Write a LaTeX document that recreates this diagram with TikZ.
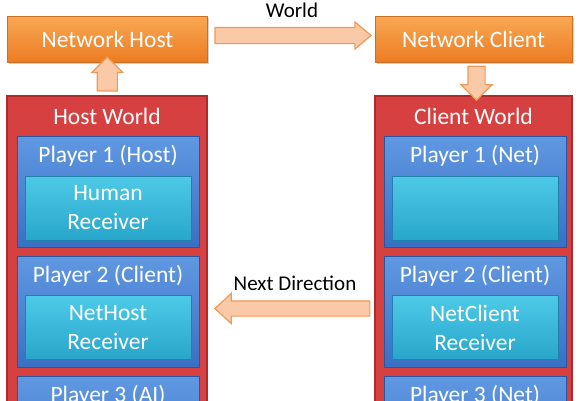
\documentclass[tikz,border=0pt]{standalone}
\usepackage{fontspec}
\setmainfont{Carlito}
\usetikzlibrary{shapes,arrows,positioning,calc,shadows}

\definecolor{orangetop}{RGB}{250,168,85}
\definecolor{orangebot}{RGB}{236,124,34}
\definecolor{orangeline}{RGB}{205,110,35}
\definecolor{redfill}{RGB}{214,64,64}
\definecolor{redline}{RGB}{175,42,42}
\definecolor{bluetop}{RGB}{96,152,226}
\definecolor{bluebot}{RGB}{58,112,196}
\definecolor{blueline}{RGB}{40,86,160}
\definecolor{cyantop}{RGB}{78,202,232}
\definecolor{cyanbot}{RGB}{40,166,202}
\definecolor{cyanline}{RGB}{30,130,172}
\definecolor{arrowfill}{RGB}{250,202,168}
\definecolor{arrowline}{RGB}{240,152,85}

\begin{document}
\begin{tikzpicture}[x=1pt, y=-1pt]
    % Styles
    \tikzstyle{netbox} = [draw=orangeline, top color=orangetop, bottom color=orangebot, minimum height=46pt, inner sep=0pt, outer sep=0pt, text=white, font=\fontsize{23.5}{27}\selectfont, drop shadow={opacity=0.35, shadow xshift=1.5pt, shadow yshift=-1.5pt}]
    \tikzstyle{world} = [draw=redline, line width=1.2pt, fill=redfill, minimum width=200pt, minimum height=320pt, inner sep=0pt, outer sep=0pt]
    \tikzstyle{player} = [draw=blueline, line width=1pt, top color=bluetop, bottom color=bluebot, minimum width=182pt, minimum height=111pt, inner sep=0pt, outer sep=0pt]
    \tikzstyle{recv} = [draw=cyanline, line width=0.8pt, top color=cyantop, bottom color=cyanbot, minimum width=166pt, minimum height=64pt, inner sep=0pt, outer sep=0pt, text=white, align=center, font=\fontsize{23.5}{29}\selectfont]
    \tikzstyle{title} = [text=white, inner sep=0pt, font=\fontsize{23.5}{27}\selectfont]
    \tikzstyle{flow} = [single arrow, draw=arrowline, fill=arrowfill, line width=1.2pt, outer sep=0pt]
    \tikzstyle{lbl} = [inner sep=0pt, font=\fontsize{21}{25}\selectfont]

    \clip (0,0) rectangle (586,400);

    % Network endpoints
    \node[netbox, minimum width=200pt] (nethost) at (107.5, 39) {Network Host};
    \node[netbox, minimum width=197pt] (netclient) at (473.5, 39) {Network Client};

    % Host World (left)
    \node[world] (hw) at (107, 256) {};
    \node[title] (hwt) at ([yshift=-20pt]hw.north) {Host World};
    \node[player] (hp1) at (108, 191.5) {};
    \node[title] (hp1t) at ([yshift=-20pt]hp1.north) {Player 1 (Host)};
    \node[recv] (hr1) at (108, 208) {Human\\Receiver};
    \node[player] (hp2) at (108, 311.5) {};
    \node[title] (hp2t) at ([yshift=-20pt]hp2.north) {Player 2 (Client)};
    \node[recv] (hr2) at (108, 327.5) {NetHost\\Receiver};
    \node[player] (hp3) at (108, 431.5) {};
    \node[title] (hp3t) at ([yshift=-20pt]hp3.north) {Player 3 (AI)};

    % Client World (right)
    \node[world, minimum width=197pt] (cw) at (473.5, 256) {};
    \node[title] (cwt) at ([yshift=-20pt]cw.north) {Client World};
    \node[player] (cp1) at (475, 191.5) {};
    \node[title] (cp1t) at ([yshift=-20pt]cp1.north) {Player 1 (Net)};
    \node[recv] (cr1) at (475, 208) {};
    \node[player] (cp2) at (475, 311.5) {};
    \node[title] (cp2t) at ([yshift=-20pt]cp2.north) {Player 2 (Client)};
    \node[recv] (cr2) at (475, 327.5) {NetClient\\Receiver};
    \node[player] (cp3) at (475, 431.5) {};
    \node[title] (cp3t) at ([yshift=-20pt]cp3.north) {Player 3 (Net)};

    % Block arrows between the boxes
    \node[flow, minimum height=34pt, minimum width=30pt, inner sep=9.5pt, single arrow head extend=5.5pt, rotate=90] (up) at ($(hw.north)!0.5!(nethost.south)$) {};
    \node[flow, minimum height=34pt, minimum width=30pt, inner sep=8pt, single arrow head extend=7pt, rotate=-90] (down) at ($(netclient.south)!0.5!(cw.north)+(3,0)$) {};
    \node[flow, minimum height=156pt, minimum width=26pt, inner sep=7.5pt, single arrow head extend=5.5pt, single arrow tip angle=80] (worldarr) at ($(nethost.east)!0.5!(netclient.west)+(-3,-3.5)$) {};
    \node[lbl] (worldlbl) at (292, 10) {World};
    \node[flow, minimum height=155pt, minimum width=29pt, inner sep=7pt, single arrow head extend=7.5pt, single arrow tip angle=85, rotate=180] (dirarr) at ($(hp2.east)!0.5!(cp2.west)+(5,-3)$) {};
    \node[lbl] (dirlbl) at (295, 283) {Next Direction};
\end{tikzpicture}
\end{document}
